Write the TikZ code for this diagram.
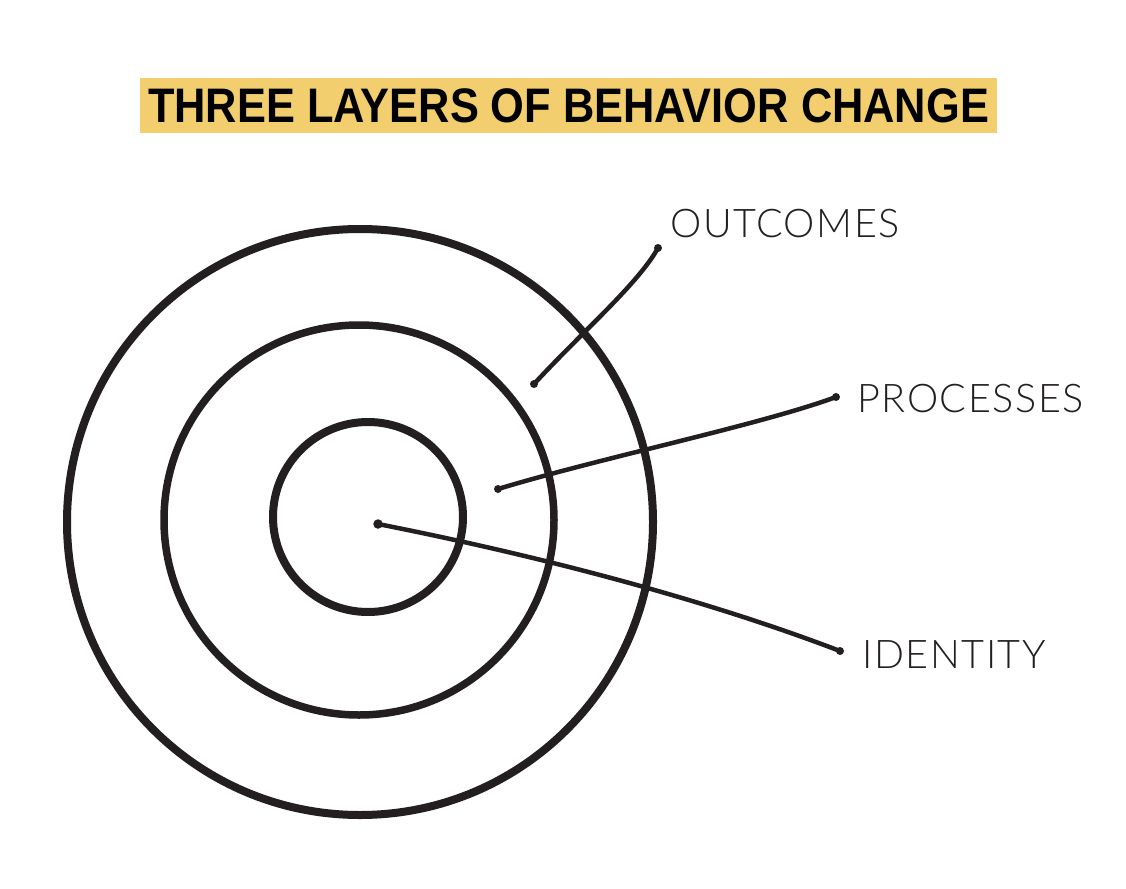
\documentclass[tikz,border=0pt]{standalone}
\usepackage{fontspec}
\setmainfont{Liberation Sans}
\newfontfamily\titlefont{Liberation Sans}
\newfontfamily\labfont{Lato Light}[LetterSpace=4]
\definecolor{titleyellow}{HTML}{F2CE6E}
\definecolor{ink}{HTML}{231F20}
\begin{document}
\begin{tikzpicture}[x=1pt,y=-1pt,
  ring/.style={draw=ink},
  leader/.style={draw=ink,line width=4.5pt,line cap=round,line join=round},
  enddot/.style={circle,fill=ink,inner sep=0pt,minimum size=8pt},
  label/.style={anchor=base west,inner sep=0pt,text=ink,font=\labfont\fontsize{39.5}{39.5}\selectfont}]
\useasboundingbox (0,0) rectangle (1126,888);
\fill[white] (0,0) rectangle (1126,888);
% title
\node (title) [fill=titleyellow,minimum width=857pt,minimum height=55pt,inner sep=0pt]
  at (568.5,105.5) {\scalebox{0.913}[1.02]{\titlefont\bfseries\fontsize{47.5}{47.5}\selectfont THREE LAYERS OF BEHAVIOR CHANGE}};
% rings
\draw[ring,line width=8pt] (360,522) circle[radius=293];
\draw[ring,line width=7.5pt] (359,520) circle[radius=195];
\draw[ring,line width=8pt] (368,517) circle[radius=95];
% labels
\node (outcomes) [label] at (670,237) {OUTCOMES};
\node (processes) [label] at (857,412) {PROCESSES};
\node (identity) [label] at (862,668) {IDENTITY};
% leader end points
\node (o1) [enddot] at (534,384) {};
\node (o2) [enddot] at (658,248) {};
\node (p1) [enddot] at (498,489) {};
\node (p2) [enddot] at (836,397) {};
\node (i1) [enddot,minimum size=9.5pt] at (378,524) {};
\node (i2) [enddot] at (840,651) {};
% leaders
\draw[leader] (o1.center) .. controls (580,334) and (638,284) .. (o2.center);
\draw[leader] (p1.center) .. controls (600,458) and (760,425) .. (p2.center);
\draw[leader] (i1.center) .. controls (560,560) and (720,605) .. (i2.center);
\end{tikzpicture}
\end{document}
